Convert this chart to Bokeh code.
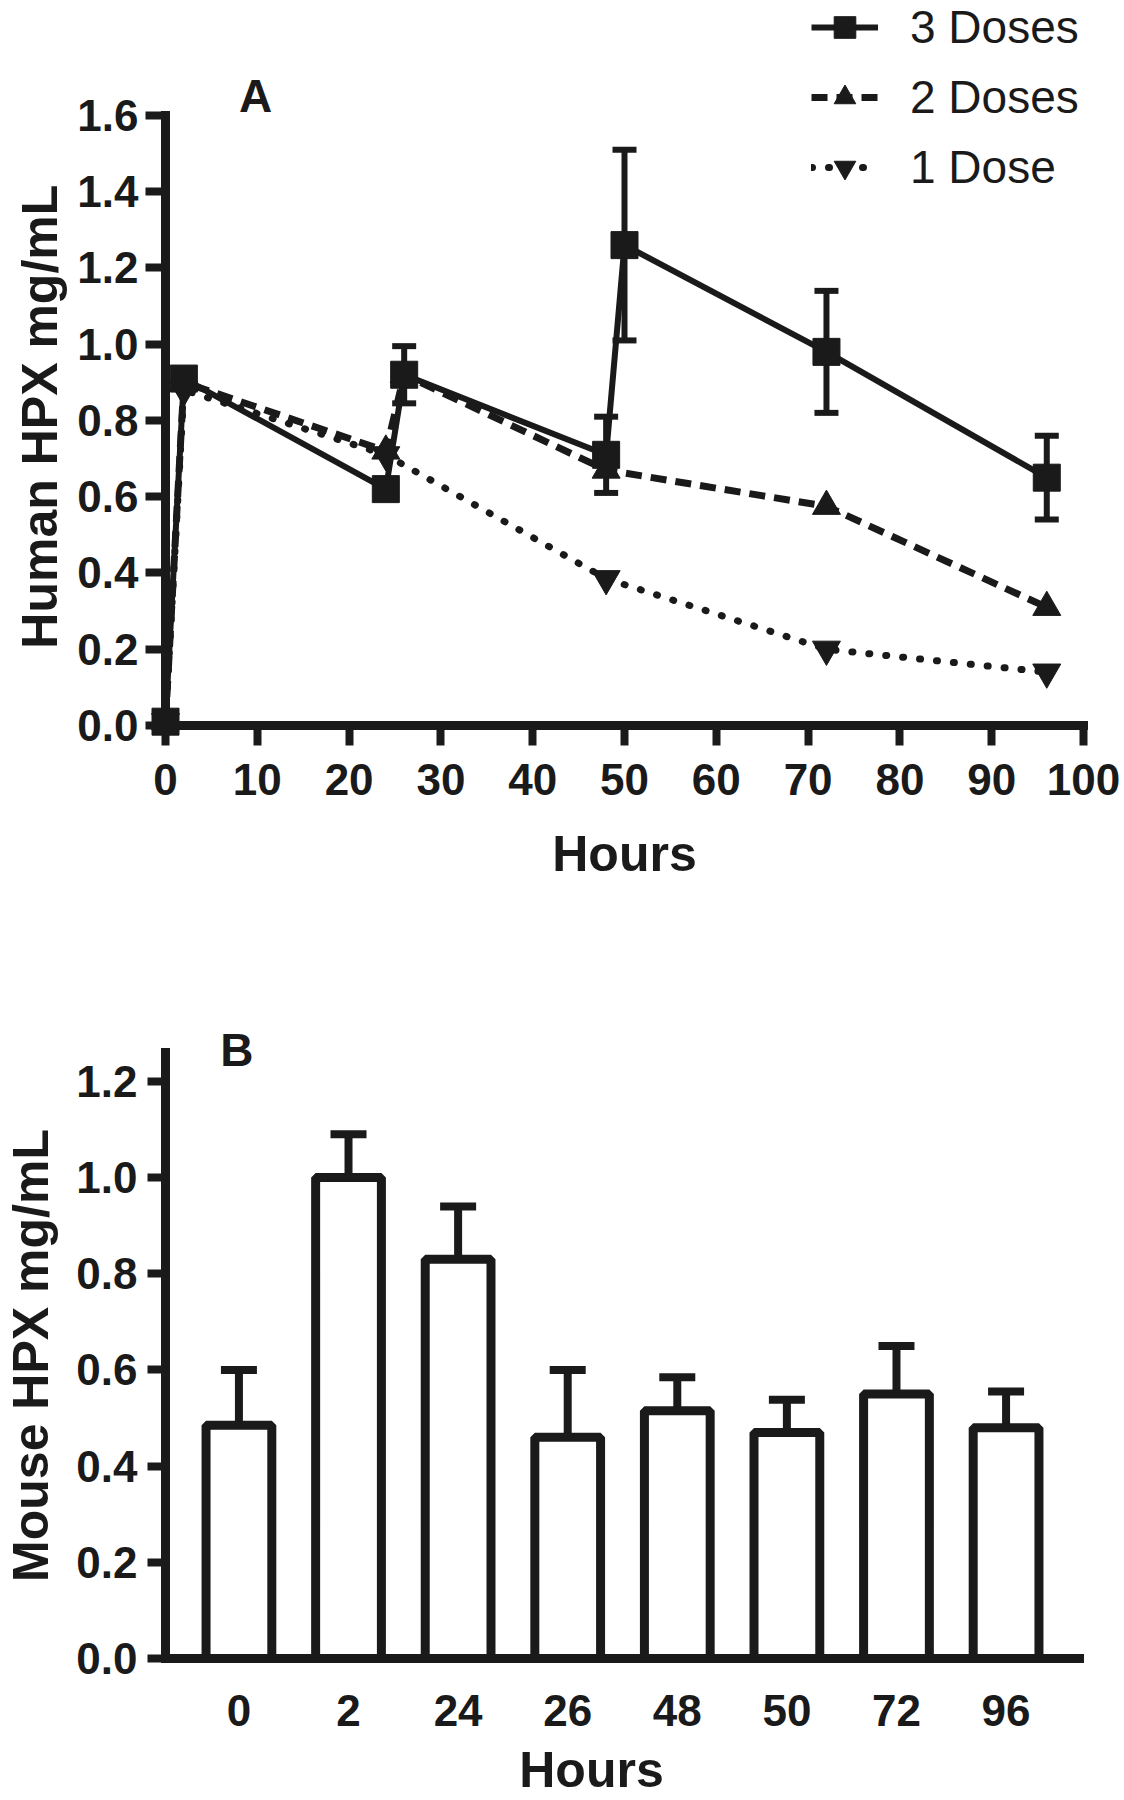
import math
from bokeh.plotting import figure
from bokeh.models import (Range1d, FactorRange, FixedTicker, Whisker, TeeHead,
                          ColumnDataSource, Legend, LegendItem, PrintfTickFormatter)
from bokeh.core.properties import value
from bokeh.layouts import column
from bokeh.embed import file_html
from bokeh.resources import INLINE

# ---------------- data: panel A (human HPX) ----------------
hours_3 = [0, 2, 24, 26, 48, 50, 72, 96]
dose_3 = [0.01, 0.91, 0.62, 0.92, 0.71, 1.26, 0.98, 0.65]
dose_3_err = [0.0, 0.0, 0.0, 0.075, 0.10, 0.25, 0.16, 0.11]
hours_2 = [0, 2, 24, 26, 48, 72, 96]
dose_2 = [0.01, 0.90, 0.72, 0.92, 0.67, 0.575, 0.31]
hours_1 = [0, 2, 24, 48, 72, 96]
dose_1 = [0.01, 0.88, 0.71, 0.385, 0.20, 0.14]
a_xticks = [0, 10, 20, 30, 40, 50, 60, 70, 80, 90, 100]
a_yticks = [0.0, 0.2, 0.4, 0.6, 0.8, 1.0, 1.2, 1.4, 1.6]

# ---------------- data: panel B (mouse HPX) ----------------
bar_hours = ["0", "2", "24", "26", "48", "50", "72", "96"]
mouse_hpx = [0.485, 1.00, 0.83, 0.46, 0.515, 0.47, 0.55, 0.48]
mouse_err = [0.115, 0.09, 0.11, 0.14, 0.07, 0.068, 0.10, 0.075]
b_yticks = [0.0, 0.2, 0.4, 0.6, 0.8, 1.0, 1.2]

FONT = "Liberation Sans"
INK = "#1a1a1a"


def style_axes(p, tick_size="44px", label_size="50px"):
    for ax in list(p.xaxis) + list(p.yaxis):
        ax.axis_line_width = 9
        ax.axis_line_color = INK
        ax.axis_line_cap = "square"
        ax.major_tick_line_width = 8
        ax.major_tick_line_color = INK
        ax.major_tick_in = 0
        ax.minor_tick_line_color = None
        ax.major_label_text_font = FONT
        ax.major_label_text_font_style = "bold"
        ax.major_label_text_font_size = tick_size
        ax.major_label_text_color = INK
        ax.axis_label_text_font = FONT
        ax.axis_label_text_font_style = "bold"
        ax.axis_label_text_font_size = label_size
        ax.axis_label_text_color = INK
    p.xgrid.grid_line_color = None
    p.ygrid.grid_line_color = None
    p.outline_line_color = None


def title_text(p, x, y, text, size, angle=0.0, align="center", baseline="middle"):
    p.text(x=[x], y=[y], text=[text], angle=angle, text_font=value(FONT),
           text_font_style="bold", text_font_size=size, text_color=INK,
           text_align=align, text_baseline=baseline, level="overlay")


# ---------------- panel A ----------------
# the frame reaches the top edge so the legend fits; the y axis is limited with bounds
pA = figure(width=1124, height=892, output_backend="svg", toolbar_location=None,
            x_range=Range1d(0, 100), y_range=Range1d(0, 1.9016),
            min_border_left=160, min_border_right=0, min_border_top=0,
            min_border_bottom=167)
style_axes(pA)
pA.xaxis.ticker = FixedTicker(ticks=a_xticks)
pA.yaxis.ticker = FixedTicker(ticks=a_yticks)
pA.yaxis.bounds = (0, 1.6)
pA.yaxis.formatter = PrintfTickFormatter(format="%.1f")
pA.xaxis.major_tick_out = 20
pA.yaxis.major_tick_out = 20
pA.xaxis.major_label_standoff = 18
pA.yaxis.major_label_standoff = 7
pA.xaxis.axis_label = "Hours"
pA.xaxis.axis_label_standoff = 28

# error bars for the 3-dose series
eb_x = [h for h, e in zip(hours_3, dose_3_err) if e > 0]
eb_lo = [v - e for v, e in zip(dose_3, dose_3_err) if e > 0]
eb_hi = [v + e for v, e in zip(dose_3, dose_3_err) if e > 0]
eb_src = ColumnDataSource(dict(x=eb_x, lo=eb_lo, hi=eb_hi))
wA = Whisker(base="x", lower="lo", upper="hi", source=eb_src, dimension="height",
             line_color=INK, line_width=6, level="annotation",
             upper_head=TeeHead(size=24, line_width=6, line_color=INK),
             lower_head=TeeHead(size=24, line_width=6, line_color=INK))
pA.add_layout(wA)

l1 = pA.line(hours_1, dose_1, line_color=INK, line_width=7, line_dash="1 16",
             line_cap="round")
l2 = pA.line(hours_2, dose_2, line_color=INK, line_width=7, line_dash="16 9")
l3 = pA.line(hours_3, dose_3, line_color=INK, line_width=6)
m1 = pA.scatter(hours_1, dose_1, marker="inverted_triangle", size=28, color=INK,
                level="overlay")
m2 = pA.scatter(hours_2, dose_2, marker="triangle", size=28, color=INK, level="overlay")
m3 = pA.scatter(hours_3, dose_3, marker="square", size=27, color=INK, level="overlay")

legA = Legend(items=[LegendItem(label="3 Doses", renderers=[l3, m3]),
                     LegendItem(label="2 Doses", renderers=[l2, m2]),
                     LegendItem(label="1 Dose", renderers=[l1, m1])],
              location=(646, 531), orientation="vertical",
              glyph_width=67, glyph_height=54, spacing=16, padding=0, margin=0,
              label_standoff=32, label_text_font=FONT, label_text_font_size="46px",
              label_text_color=INK, border_line_color=None, background_fill_alpha=0)
pA.add_layout(legA)

# panel letter and y-axis title
title_text(pA, 8.0, 1.652, "A", "46px", align="left", baseline="alphabetic")
title_text(pA, -13.7, 0.81, "Human HPX mg/mL", "50px", angle=math.pi / 2)

# ---------------- panel B ----------------
pB = figure(width=1120, height=908, output_backend="svg", toolbar_location=None,
            x_range=FactorRange(*bar_hours, range_padding=0.17,
                                range_padding_units="absolute"),
            y_range=Range1d(0, 1.26),
            min_border_left=165, min_border_right=41, min_border_top=160,
            min_border_bottom=142)
style_axes(pB)
pB.yaxis.ticker = FixedTicker(ticks=b_yticks)
pB.yaxis.formatter = PrintfTickFormatter(format="%.1f")
pB.yaxis.major_tick_out = 18
pB.yaxis.major_label_standoff = 10
pB.xaxis.major_tick_out = 0
pB.xaxis.major_tick_line_color = None
pB.xaxis.major_label_standoff = 36
pB.yaxis.axis_label = "Mouse HPX mg/mL"
pB.yaxis.axis_label_standoff = 14

b_src = ColumnDataSource(dict(x=bar_hours, top=mouse_hpx,
                              hi=[v + e for v, e in zip(mouse_hpx, mouse_err)]))
wB = Whisker(base="x", lower="top", upper="hi", source=b_src, dimension="height",
             line_color=INK, line_width=8, level="underlay",
             upper_head=TeeHead(size=36, line_width=8, line_color=INK),
             lower_head=None)
pB.add_layout(wB)
pB.vbar(x="x", top="top", width=0.6, source=b_src, fill_color="white",
        line_color=INK, line_width=9)

title_text(pB, 0.33, 1.266, "B", "46px", align="left", baseline="alphabetic")
title_text(pB, 3.717, -0.232, "Hours", "50px")

layout = column(pA, pB, spacing=0)
open("out.html", "w").write(file_html(layout, INLINE))
